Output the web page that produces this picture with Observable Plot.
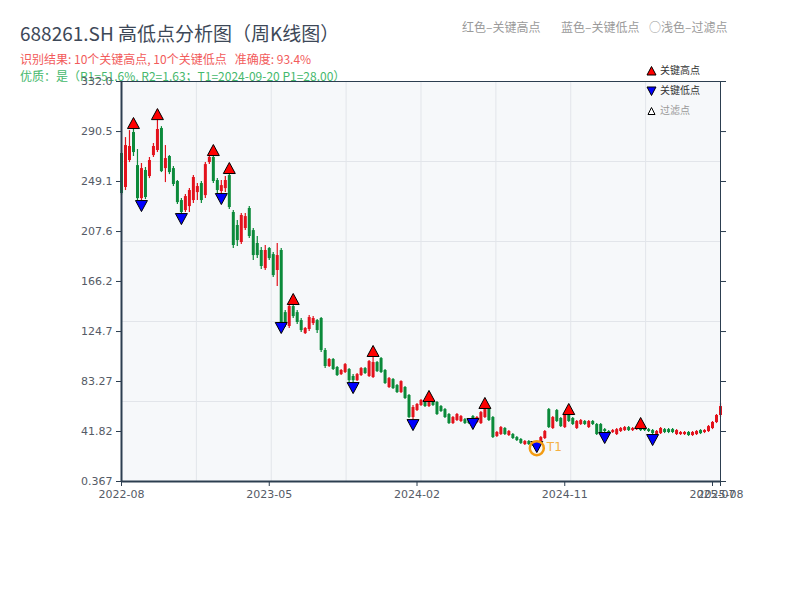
<!DOCTYPE html>
<html><head><meta charset="utf-8">
<script src="https://cdn.jsdelivr.net/npm/d3@7"></script>
<script src="https://cdn.jsdelivr.net/npm/@observablehq/plot@0.6"></script>
<style>
body{margin:0;background:#fff;font-family:"Noto Sans CJK SC",sans-serif;}
#wrap{position:relative;width:800px;height:600px;overflow:hidden;}
.t{position:absolute;white-space:pre;line-height:1;}
#chart{position:absolute;left:0;top:0;}
</style></head><body>
<div id="wrap">
<div class="t" style="left:20px;top:23px;font-size:19px;color:#3d4858">688261.SH 高低点分析图（周K线图）</div>
<div class="t" style="left:20px;top:53px;font-size:12px;color:#f25b5b">识别结果: 10个关键高点, 10个关键低点   准确度: 93.4%</div>
<div class="t" style="left:20px;top:70px;font-size:12px;color:#45b86c">优质：是（R1=51.6%, R2=1.63；T1=2024-09-20 P1=28.00）</div>
<div class="t" style="left:462px;top:21px;font-size:12px;color:#9a9a9a">红色–关键高点</div>
<div class="t" style="left:561px;top:21px;font-size:12px;color:#9a9a9a">蓝色–关键低点</div>
<div class="t" style="left:649px;top:21px;font-size:12px;color:#9a9a9a">○浅色–过滤点</div>
<div id="chart"></div>
<svg class="t" style="left:646px;top:66px" width="11" height="10"><path d="M5.5 0.5L10 9H1Z" fill="#ff0000" stroke="#000" stroke-width="1"/></svg>
<div class="t" style="left:660px;top:65px;font-size:10px;color:#333">关键高点</div>
<svg class="t" style="left:646px;top:86px" width="11" height="10"><path d="M5.5 9.5L10 1H1Z" fill="#0000ff" stroke="#000" stroke-width="1"/></svg>
<div class="t" style="left:660px;top:85px;font-size:10px;color:#333">关键低点</div>
<svg class="t" style="left:647px;top:107px" width="9" height="8"><path d="M4.5 0.5L8 7.5H1Z" fill="#fff" stroke="#000" stroke-width="1"/></svg>
<div class="t" style="left:660px;top:105px;font-size:10px;color:#999">过滤点</div>
</div>
<script>
// ---- data (weekly candles, index 0..150) ----
const opens = [
272.3,244.1,266.5,289.7,262.3,234.9,258.2,253.2,270.6,274.8,
293.0,259.8,269.8,259.8,249.1,233.3,225.0,228.3,233.3,239.9,
247.4,237.4,264.8,269.0,249.9,240.8,243.2,254.0,223.4,212.6,
198.5,210.1,226.7,208.4,197.7,191.9,176.9,193.5,188.5,175.3,
191.9,140.4,128.9,145.4,140.4,133.8,123.0,126.4,131.3,133.8,
135.5,109.0,95.7,101.5,94.9,89.0,90.7,93.2,87.4,84.0,
88.2,94.0,87.4,86.6,99.0,102.3,92.4,78.3,84.9,79.9,
74.1,78.3,71.7,53.4,59.2,63.4,66.7,62.5,65.9,65.9,
62.5,60.0,55.9,48.4,50.9,50.1,51.7,50.9,54.2,49.3,
48.4,53.4,60.9,53.4,37.7,39.3,44.3,38.5,39.3,36.8,
35.2,31.0,33.5,32.7,32.7,33.5,36.0,60.0,44.3,59.2,
52.6,45.1,55.1,52.6,44.3,47.6,50.1,45.1,50.1,47.6,
47.6,43.4,41.8,41.0,39.3,41.8,42.6,45.1,42.6,43.4,
44.3,45.1,43.4,42.6,39.3,40.1,43.4,43.4,43.4,39.3,
39.3,39.3,41.0,38.5,39.3,42.6,41.0,41.8,44.3,49.3,
55.1];
const closes = [
239.1,278.9,278.1,273.1,234.9,259.8,235.8,266.5,278.1,292.2,
257.3,268.1,256.5,246.6,231.6,223.4,236.6,241.6,252.4,244.9,
233.3,263.1,269.0,249.1,241.6,245.7,249.9,227.5,196.0,200.1,
220.9,220.0,203.5,187.7,187.7,178.6,191.9,185.2,171.1,187.7,
132.2,129.7,145.4,137.1,132.2,125.5,127.2,136.3,135.5,125.5,
109.0,95.7,101.5,93.2,88.2,92.4,97.3,84.0,84.0,89.0,
94.0,89.9,99.8,99.0,91.5,90.7,81.6,85.7,77.4,74.1,
83.2,69.2,53.4,61.7,64.2,67.5,62.5,65.9,63.4,55.9,
58.4,53.4,48.4,53.4,55.9,54.2,48.4,48.4,52.6,53.4,
57.5,60.0,50.9,36.8,41.0,45.1,39.3,41.8,36.0,34.3,
31.9,33.5,31.0,30.2,29.4,36.8,41.8,45.1,53.4,50.1,
45.9,55.9,50.1,47.6,50.1,50.9,47.6,50.1,47.6,39.3,
41.0,41.8,40.1,42.6,43.4,44.3,45.1,42.6,44.3,45.1,
42.6,42.6,41.8,40.1,41.8,44.3,41.0,41.0,41.0,42.6,
41.0,41.0,38.5,41.0,41.8,40.1,42.6,45.9,49.3,55.1,
62.5];
const highs = [
274.8,285.5,291.3,293.0,275.6,264.0,260.7,269.0,280.6,300.4,
294.6,278.9,270.6,261.5,249.9,234.9,238.3,243.2,254.0,247.4,
249.1,264.8,271.4,270.6,251.5,249.9,253.2,255.7,225.0,216.7,
222.5,222.5,228.3,210.1,203.5,194.3,196.0,194.3,190.2,197.7,
193.5,142.1,147.9,147.1,142.1,135.5,128.0,138.0,137.1,134.7,
136.3,110.6,102.3,102.3,95.7,93.2,98.2,94.0,89.0,89.9,
94.9,94.9,100.7,104.0,99.8,103.2,93.2,86.6,85.7,80.8,
84.0,79.1,72.5,63.4,65.0,68.3,67.5,66.7,66.7,66.7,
63.4,60.9,56.7,54.2,56.7,55.1,52.6,51.7,55.1,54.2,
58.4,60.9,61.7,54.2,41.8,45.9,45.1,42.6,40.1,37.7,
36.0,34.3,34.3,33.5,33.5,37.7,42.6,60.9,54.2,60.0,
53.4,56.7,55.9,53.4,50.9,51.7,50.9,50.9,50.9,48.4,
48.4,44.3,42.6,43.4,44.3,45.1,45.9,45.9,45.1,45.9,
44.3,45.9,44.3,43.4,42.6,45.1,44.3,44.3,44.3,43.4,
41.8,41.8,41.8,41.8,42.6,43.4,43.4,46.8,50.1,55.9,
65.0];
const lows = [
237.4,241.6,264.8,269.8,233.3,233.3,234.1,251.5,269.0,273.1,
256.5,248.2,254.8,244.9,230.0,222.5,223.4,223.4,230.8,233.3,
230.8,234.9,263.1,247.4,239.1,239.1,239.9,225.8,193.5,195.2,
196.8,208.4,201.8,183.6,185.2,176.1,175.3,183.6,169.5,162.0,
131.3,128.0,127.2,135.5,130.5,123.9,122.2,124.7,129.7,123.0,
107.3,94.0,94.9,92.4,87.4,88.2,89.9,82.4,82.4,83.2,
87.4,89.0,86.6,85.7,90.7,89.9,80.8,77.4,76.6,73.3,
73.3,68.3,52.6,51.7,58.4,62.5,61.7,61.7,62.5,55.1,
57.5,52.6,47.6,47.6,50.1,49.3,47.6,47.6,52.6,48.4,
47.6,52.6,50.1,36.0,36.8,38.5,38.5,37.7,35.2,33.5,
31.0,30.2,30.2,29.4,28.0,32.7,35.2,44.3,43.4,49.3,
45.1,44.3,49.3,46.8,43.4,46.8,46.8,44.3,46.8,38.5,
40.1,41.0,39.3,40.1,38.5,41.0,41.8,41.8,41.8,42.6,
41.8,41.8,41.0,39.3,38.5,39.3,40.1,40.1,40.1,38.5,
38.5,38.5,37.7,37.7,38.5,39.3,40.1,41.0,43.4,48.4,
53.4];

// key points
const keyHighIdx = [3, 9, 23, 27, 43, 63, 77, 91, 112, 130];
const keyHighVal = [293.0, 300.4, 270.6, 255.7, 147.1, 104.0, 66.7, 60.9, 55.9, 44.3];
const keyLowIdx  = [5, 15, 25, 40, 58, 73, 88, 104, 121, 133];
const keyLowVal  = [233.3, 222.5, 239.1, 132.2, 82.4, 51.7, 52.6, 33.5, 41.0, 39.3];
const t1Idx = 104, t1Price = 28.00;

// axes
const yTicks = [0.367, 41.82, 83.27, 124.7, 166.2, 207.6, 249.1, 290.5, 332.0];
const yTickLabels = ["0.367","41.82","83.27","124.7","166.2","207.6","249.1","290.5","332.0"];
const xTickIdx = [0, 37, 74, 111, 148, 150];
const xTickLabels = ["2022-08","2023-05","2024-02","2024-11","2025-07","2025-08"];

// ---- build ----
const N = opens.length;
const candles = opens.map((o, i) => ({i, o, c: closes[i], h: highs[i], l: lows[i], up: closes[i] >= o}));
const upC = candles.filter(d => d.up), dnC = candles.filter(d => !d.up);
const RED = "#e3121c", GREEN = "#0b8a3a", AXIS = "#2c3e50", GRID = "#e2e5ea";
const yDomain = [yTicks[0], yTicks[yTicks.length - 1]];
const gridX = d3.range(1, 8).map(k => k * (N - 1) / 8);
const gridY = d3.range(1, 5).map(k => yDomain[0] + k * (yDomain[1] - yDomain[0]) / 5);
const yLab = new Map(yTicks.map((v, k) => [v, yTickLabels[k]]));
const xLab = new Map(xTickIdx.map((v, k) => [v, xTickLabels[k]]));
const highPts = keyHighIdx.map((i, k) => ({i, v: keyHighVal[k]}));
const lowPts = keyLowIdx.map((i, k) => ({i, v: keyLowVal[k]}));

const triUp = {draw(ctx, size) { const a = Math.sqrt(size / Math.PI); ctx.moveTo(0, -2.4 * a); ctx.lineTo(1.3 * a, 0); ctx.lineTo(-1.3 * a, 0); ctx.closePath(); }};
const triDown = {draw(ctx, size) { const a = Math.sqrt(size / Math.PI); ctx.moveTo(0, 2.4 * a); ctx.lineTo(1.3 * a, 0); ctx.lineTo(-1.3 * a, 0); ctx.closePath(); }};

const chart = Plot.plot({
  width: 800, height: 520,
  marginTop: 81, marginBottom: 39, marginLeft: 121, marginRight: 80,
  style: {background: "transparent", fontFamily: "DejaVu Sans, Noto Sans CJK SC, sans-serif", fontSize: "11px"},
  x: {domain: [0, N - 1], label: null},
  y: {domain: yDomain, label: null},
  marks: [
    Plot.frame({fill: "#f6f8fa"}),
    Plot.ruleX(gridX, {stroke: GRID, strokeWidth: 1}),
    Plot.ruleY(gridY, {stroke: GRID, strokeWidth: 1}),
    Plot.ruleX(upC, {x: "i", y1: "l", y2: "h", stroke: RED, strokeWidth: 1.2}),
    Plot.ruleX(dnC, {x: "i", y1: "l", y2: "h", stroke: GREEN, strokeWidth: 1.2}),
    Plot.ruleX(upC, {x: "i", y1: "o", y2: "c", stroke: RED, strokeWidth: 3}),
    Plot.ruleX(dnC, {x: "i", y1: "o", y2: "c", stroke: GREEN, strokeWidth: 3}),
    Plot.frame({stroke: AXIS, strokeWidth: 1}),
    Plot.ruleX([0], {stroke: AXIS, strokeWidth: 2}),
    Plot.ruleY([yDomain[0]], {stroke: AXIS, strokeWidth: 2}),
    Plot.dot(highPts, {x: "i", y: "v", symbol: triUp, r: 4.6, fill: "#ff0000", stroke: "#000", strokeWidth: 1}),
    Plot.dot(lowPts, {x: "i", y: "v", symbol: triDown, r: 4.6, fill: "#0000ff", stroke: "#000", strokeWidth: 1}),
    Plot.dot([{i: t1Idx, v: t1Price}], {x: "i", y: "v", r: 7, fill: "none", stroke: "#f39c12", strokeWidth: 2.5}),
    Plot.text([{i: t1Idx, v: t1Price}], {x: "i", y: "v", text: () => "T1", dx: 10, dy: -1, textAnchor: "start", fill: "#f5b041", fontSize: 12}),
    Plot.axisY({ticks: yTicks, tickFormat: d => yLab.get(d), tickSize: 5, tickPadding: 4, stroke: AXIS, fill: "#555b66"}),
    Plot.axisY({anchor: "right", ticks: yTicks, tickFormat: () => "", tickSize: 5, stroke: AXIS}),
    Plot.axisX({ticks: xTickIdx, tickFormat: d => xLab.get(d), tickSize: 5, tickPadding: 4, stroke: AXIS, fill: "#555b66"})
  ]
});
document.getElementById("chart").appendChild(chart);
</script>
</body></html>
